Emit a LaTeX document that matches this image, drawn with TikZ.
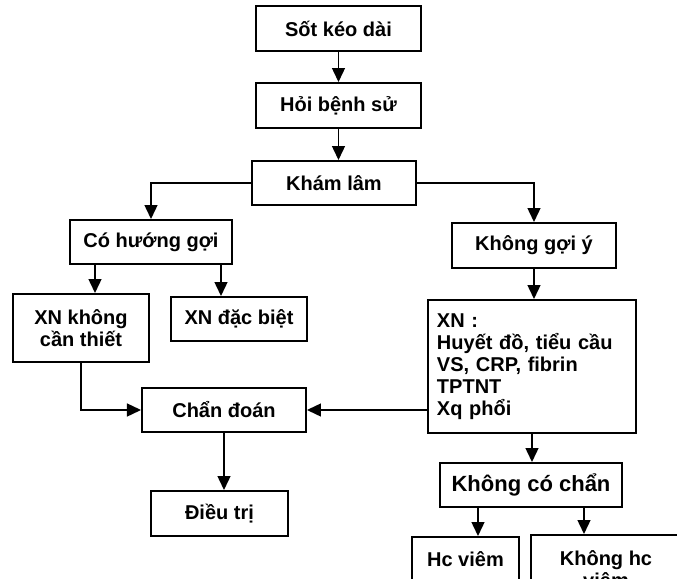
\documentclass[tikz,border=0pt]{standalone}
\usepackage{fontspec}
\setmainfont{Liberation Sans}
\usetikzlibrary{arrows.meta}
\begin{document}
\begin{tikzpicture}[x=0.5pt, y=-0.5pt, >={Triangle[width=6.5pt,length=7pt]},
    every node/.style={font=\fontsize{10}{11}\selectfont\bfseries},
    box/.style={draw, line width=1pt, align=center, inner sep=2pt},
    link/.style={line width=0.7pt}]
  % khung hinh (cat theo anh goc)
  \useasboundingbox (0,0) rectangle (677,579);
  \clip (0,0) rectangle (677,579);

  % cot giua
  \node[box, minimum width=82.5pt, minimum height=22.5pt] (sot) at (338.5,28.5) {Sốt kéo dài};
  \node[box, minimum width=82.5pt, minimum height=22.5pt] (hoi) at (338.5,105.5) {Hỏi bệnh sử};
  \node[box, minimum width=82pt, minimum height=22pt] (kham) at (334,183) {Khám lâm};

  % nhanh trai
  \node[box, minimum width=81pt, minimum height=22pt] (co) at (151,242) {Có hướng gợi};
  \node[box, minimum width=68pt, minimum height=34pt] (xnk) at (81,328) {XN không\\cần thiết};
  \node[box, minimum width=68pt, minimum height=22pt] (xnd) at (239,319) {XN đặc biệt};
  \node[box, minimum width=82pt, minimum height=22pt] (chan) at (224,410) {Chẩn đoán};
  \node[box, minimum width=68.5pt, minimum height=22.5pt] (dieu) at (219.5,513.5) {Điều trị};

  % nhanh phai
  \node[box, minimum width=82pt, minimum height=22.5pt] (khong) at (534,245.5) {Không gợi ý};
  \node[box, align=left, text width=95pt, inner xsep=4.5pt, minimum height=66.5pt] (xn) at (532,366.5)
    {XN :\\Huyết đồ, tiểu cầu\\VS, CRP, fibrin\\TPTNT\\Xq phổi};
  \node[box, minimum width=91pt, minimum height=22pt, font=\fontsize{11}{12}\selectfont\bfseries] (kcc) at (531,485) {Không có chẩn};
  \node[box, minimum width=53.5pt, minimum height=22.5pt] (hc) at (465.5,559.5) {Hc viêm};
  \node[box, minimum width=75pt, minimum height=34pt] (khc) at (606,569) {Không hc\\viêm};

  % mui ten
  \draw[link,->] (sot) -- (hoi);
  \draw[link,->] (hoi.south) -- (hoi.south |- kham.north);
  \draw[link,->] (kham.west) -| (co.north);
  \draw[link,->] (kham.east) -| (khong.north);
  \draw[link,->] ([xshift=13pt]co.south west) coordinate (c1) -- (c1 |- xnk.north);
  \draw[link,->] ([xshift=-6pt]co.south east) coordinate (c2) -- (c2 |- xnd.north);
  \draw[link,->] (xnk.south) |- (chan.west);
  \draw[link,->] (xn.west |- chan.east) -- (chan.east);
  \draw[link,->] (chan.south) -- (chan.south |- dieu.north);
  \draw[link,->] (khong.south) -- (khong.south |- xn.north);
  \draw[link,->] (xn.south) -- (xn.south |- kcc.north);
  \draw[link,->] ([xshift=19.5pt]kcc.south west) coordinate (c3) -- (c3 |- hc.north);
  \draw[link,->] ([xshift=-19.5pt]kcc.south east) coordinate (c4) -- (c4 |- khc.north);
\end{tikzpicture}
\end{document}
